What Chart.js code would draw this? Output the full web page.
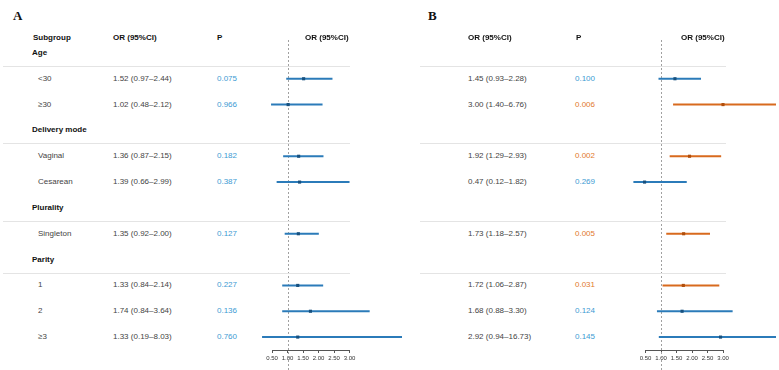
<!DOCTYPE html>
<html>
<head>
<meta charset="utf-8">
<script src="https://cdn.jsdelivr.net/npm/chart.js@4"></script>
<style>
  html, body { margin: 0; padding: 0; background: #fff; }
  #wrap { position: relative; width: 779px; height: 370px; overflow: hidden;
          font-family: "Liberation Sans", Arial, sans-serif; font-size: 8px; color: #444; }
  canvas { position: absolute; top: 0; }
  .t { position: absolute; white-space: nowrap; line-height: 10px; transform: translateY(-50%); }
  .h { font-weight: bold; color: #111; }
  .panel { font-family: "Liberation Serif", "Times New Roman", serif; font-weight: bold; font-size: 13px; color: #111; }
  .sep { position: absolute; height: 1px; background: #e4e4e4; }
</style>
</head>
<body>
<div id="wrap">
  <canvas id="chartA" width="162" height="370" style="left:240px"></canvas>
  <canvas id="chartB" width="166" height="370" style="left:610px"></canvas>
</div>
<script>
// ── DATOS ──
const rows = ['Age', '<30', '≥30', 'Delivery mode', 'Vaginal', 'Cesarean',
              'Plurality', 'Singleton', 'Parity', '1', '2', '≥3'];

const orA = [null, 1.52, 1.02, null, 1.36, 1.39, null, 1.35, null, 1.33, 1.74, 1.33];
const loA = [null, 0.97, 0.48, null, 0.87, 0.66, null, 0.92, null, 0.84, 0.84, 0.19];
const hiA = [null, 2.44, 2.12, null, 2.15, 2.99, null, 2.00, null, 2.14, 3.64, 8.03];
const pA  = [null, '0.075', '0.966', null, '0.182', '0.387', null, '0.127', null, '0.227', '0.136', '0.760'];

const orB = [null, 1.45, 3.00, null, 1.92, 0.47, null, 1.73, null, 1.72, 1.68, 2.92];
const loB = [null, 0.93, 1.40, null, 1.29, 0.12, null, 1.18, null, 1.06, 0.88, 0.94];
const hiB = [null, 2.28, 6.76, null, 2.93, 1.82, null, 2.57, null, 2.87, 3.30, 16.73];
const pB  = [null, '0.100', '0.006', null, '0.002', '0.269', null, '0.005', null, '0.031', '0.124', '0.145'];

const xTicks = [0.5, 1.0, 1.5, 2.0, 2.5, 3.0];

// ── COLORES ──
const BLUE = '#2b7bb9', BLUE_DOT = '#17507e', BLUE_TXT = '#3d9bd3';
const ORANGE = '#d86a1e', ORANGE_DOT = '#b04e0c', ORANGE_TXT = '#e2792c';
const sig = p => p !== null && parseFloat(p) < 0.05;

const wrap = document.getElementById('wrap');
function addText(txt, x, y, cls, color) {
  const d = document.createElement('div');
  d.className = 't' + (cls ? ' ' + cls : '');
  d.textContent = txt;
  d.style.left = x + 'px';
  d.style.top = y + 'px';
  if (color) d.style.color = color;
  wrap.appendChild(d);
}
function addSep(x1, x2, y) {
  const d = document.createElement('div');
  d.className = 'sep';
  d.style.left = x1 + 'px';
  d.style.width = (x2 - x1) + 'px';
  d.style.top = Math.round(y) + 'px';
  wrap.appendChild(d);
}

// línea discontinua en OR = 1
const refLine = {
  id: 'refLine',
  beforeDatasetsDraw(chart) {
    const ctx = chart.ctx;
    const x = Math.round(chart.scales.x.getPixelForValue(1)) + 0.5;
    ctx.save();
    ctx.strokeStyle = '#a0a0a0';
    ctx.lineWidth = 1;
    ctx.setLineDash([2, 2]);
    ctx.beginPath();
    ctx.moveTo(x, chart.chartArea.top);
    ctx.lineTo(x, chart.height);
    ctx.stroke();
    ctx.restore();
  }
};

function forest(id, or, lo, hi, p, padL, padR) {
  const ci = or.map((v, i) => v === null ? null : [lo[i], hi[i]]);
  const pts = [];
  or.forEach((v, i) => { if (v !== null) pts.push({ x: v, y: rows[i] }); });
  const lineCol = p.map(v => sig(v) ? ORANGE : BLUE);
  const dotCol = pts.map(pt => sig(p[rows.indexOf(pt.y)]) ? ORANGE_DOT : BLUE_DOT);

  return new Chart(document.getElementById(id), {
    type: 'bar',
    data: {
      labels: rows,
      datasets: [
        { type: 'line', data: pts, showLine: false, pointStyle: 'rect',
          pointRadius: 2.2, pointBackgroundColor: dotCol, pointBorderWidth: 0,
          clip: false, order: 0 },
        { data: ci, backgroundColor: lineCol, barThickness: 1.3,
          borderSkipped: false, clip: false, order: 1 }
      ]
    },
    options: {
      indexAxis: 'y',
      responsive: false,
      animation: false,
      layout: { padding: { left: padL, right: padR, top: 40, bottom: 0 } },
      plugins: { legend: { display: false }, tooltip: { enabled: false } },
      scales: {
        y: { display: false, type: 'category' },
        x: {
          type: 'linear', min: 0.5, max: 3.0,
          afterFit: s => { s.height = 20; },
          afterBuildTicks: s => { s.ticks = xTicks.map(v => ({ value: v })); },
          grid: { drawOnChartArea: false, tickLength: 3, color: '#555' },
          border: { color: '#555', width: 1 },
          ticks: { color: '#333', padding: 2, maxRotation: 0, minRotation: 0, autoSkip: false,
                   font: { size: 6, family: 'Liberation Sans' },
                   callback: v => Number(v).toFixed(2) }
        }
      }
    },
    plugins: [refLine]
  });
}

const chartA = forest('chartA', orA, loA, hiA, pA, 32, 52.5);
const chartB = forest('chartB', orB, loB, hiB, pB, 35.5, 53);

// ── TEXTO DE LA TABLA ──
const yOf = i => chartA.scales.y.getPixelForValue(i);
const HEAD_Y = 38;

addText('A', 13, 16, 'panel');
addText('B', 428, 16, 'panel');

addText('Subgroup', 33, HEAD_Y, 'h');
addText('OR (95%CI)', 113, HEAD_Y, 'h');
addText('P', 217, HEAD_Y, 'h');
addText('OR (95%CI)', 305, HEAD_Y, 'h');

addText('OR (95%CI)', 468, HEAD_Y, 'h');
addText('P', 576, HEAD_Y, 'h');
addText('OR (95%CI)', 681, HEAD_Y, 'h');

const fmt = (o, l, h) => `${o.toFixed(2)} (${l.toFixed(2)}–${h.toFixed(2)})`;

rows.forEach((name, i) => {
  const y = yOf(i);
  if (orA[i] === null) {
    addText(name, 32, y, 'h');
    const ys = (yOf(i) + yOf(i + 1)) / 2;
    addSep(3, 350, ys);
    addSep(420, 726, ys);
    return;
  }
  addText(name, 38, y);
  addText(fmt(orA[i], loA[i], hiA[i]), 113, y);
  addText(pA[i], 217, y, '', sig(pA[i]) ? ORANGE_TXT : BLUE_TXT);
  addText(fmt(orB[i], loB[i], hiB[i]), 468, y);
  addText(pB[i], 575, y, '', sig(pB[i]) ? ORANGE_TXT : BLUE_TXT);
});
</script>
</body>
</html>
